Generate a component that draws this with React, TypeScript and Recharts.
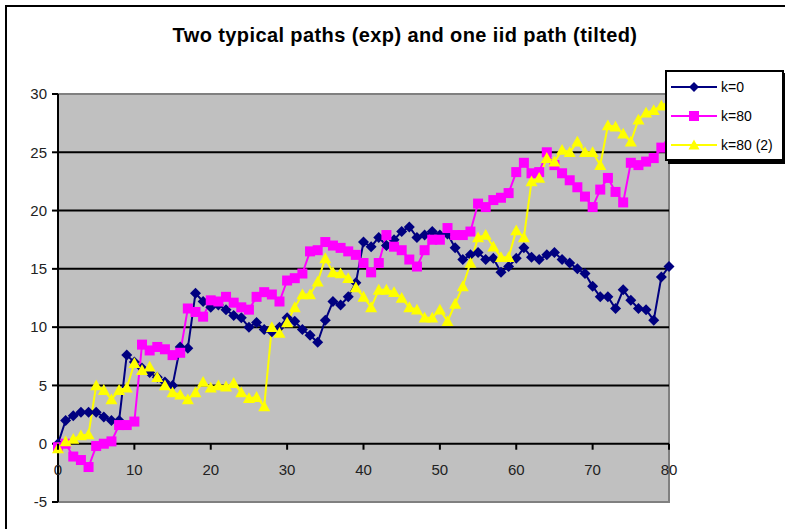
import React from 'react';
import { LineChart, Line, XAxis, YAxis, ReferenceArea, ReferenceLine } from 'recharts';

const W = 785;
const H = 529;
const PLOT_TOP = 94;
const PLOT_BOTTOM = 502;
const Y_MIN = -5;
const Y_MAX = 30;

const xTicks = [0, 10, 20, 30, 40, 50, 60, 70, 80];
const yTicks = [-5, 0, 5, 10, 15, 20, 25, 30];
const gridValues = [5, 10, 15, 20, 25];

const steps = Array.from({ length: 81 }, (_, i) => i);

// k=0
const pathK0 = [
  0, 2.0, 2.4, 2.7, 2.7, 2.7, 2.3, 2.0, 2.0, 7.6,
  7.0, 6.5, 6.1, 5.7, 5.3, 5.0, 8.3, 8.2, 12.9, 12.2,
  11.7, 11.9, 11.5, 11.0, 10.8, 10.0, 10.4, 9.8, 9.6, 10.0,
  10.8, 10.5, 9.8, 9.3, 8.7, 10.6, 12.2, 11.9, 12.6, 13.8,
  17.3, 16.9, 17.7, 17.0, 17.5, 18.2, 18.6, 17.7, 17.9, 18.2,
  17.9, 18.0, 16.8, 15.8, 16.2, 16.4, 15.8, 15.9, 14.7, 15.2,
  15.9, 16.8, 16.0, 15.8, 16.2, 16.4, 15.8, 15.5, 15.0, 14.6,
  13.5, 12.6, 12.6, 11.6, 13.2, 12.3, 11.6, 11.5, 10.6, 14.3,
  15.2,
];

// k=80
const pathK80 = [
  -0.3, 0, -1.1, -1.4, -2.0, -0.2, 0, 0.2, 1.6, 1.6,
  1.9, 8.5, 8.0, 8.3, 8.1, 7.6, 7.8, 11.6, 11.3, 10.9,
  12.3, 12.2, 12.6, 12.1, 11.7, 11.5, 12.6, 13.0, 12.8, 12.2,
  14.0, 14.2, 14.6, 16.5, 16.6, 17.3, 17.0, 16.8, 16.5, 16.2,
  15.5, 14.7, 15.5, 17.9, 16.9, 16.6, 15.8, 15.2, 16.6, 17.5,
  17.5, 18.5, 17.9, 17.9, 18.2, 20.6, 20.3, 20.9, 21.1, 21.5,
  23.3, 24.1, 23.2, 23.3, 25.0, 23.9, 23.2, 22.6, 22.0, 21.2,
  20.3, 21.8, 22.8, 21.6, 20.7, 24.1, 23.9, 24.2, 24.5, 25.4,
  25.5,
];

// k=80 (2)
const pathK80b = [
  -0.4, 0.2, 0.4, 0.7, 0.8, 5.0, 4.6, 3.8, 4.6, 4.8,
  6.9, 6.3, 6.6, 5.7, 5.0, 4.4, 4.2, 3.8, 4.4, 5.3,
  4.8, 5.0, 4.9, 5.2, 4.4, 3.9, 4.0, 3.2, 10.0, 9.5,
  10.4, 11.7, 12.8, 12.8, 13.9, 15.9, 14.7, 14.6, 14.2, 13.4,
  12.6, 11.7, 13.2, 13.2, 13.0, 12.5, 11.7, 11.5, 10.8, 10.8,
  11.5, 10.5, 12.0, 13.5, 15.5, 17.7, 17.9, 16.9, 16.0, 16.0,
  18.3, 17.7, 22.5, 22.8, 24.5, 24.2, 25.2, 25.0, 25.9, 25.0,
  25.0, 23.9, 27.3, 27.2, 26.6, 25.9, 27.8, 28.4, 28.6, 29.0,
  29.3,
];

const data = steps.map((s, i) => ({
  step: s,
  k0: pathK0[i],
  k80: pathK80[i],
  k80b: pathK80b[i],
}));

const NAVY = '#000080';
const MAGENTA = '#FF00FF';
const YELLOW = '#FFFF00';

const diamond = (cx: number, cy: number, r: number) =>
  `${cx},${cy - r} ${cx + r},${cy} ${cx},${cy + r} ${cx - r},${cy}`;
const triangle = (cx: number, cy: number, r: number) =>
  `${cx},${cy - r} ${cx + r},${cy + r * 0.8} ${cx - r},${cy + r * 0.8}`;

const DiamondDot = (p: any) =>
  p.cx == null ? null : <polygon key={`d${p.index}`} points={diamond(p.cx, p.cy, 5.5)} fill={NAVY} />;
const SquareDot = (p: any) =>
  p.cx == null ? null : <rect key={`s${p.index}`} x={p.cx - 5} y={p.cy - 5} width={10} height={10} fill={MAGENTA} />;
const TriangleDot = (p: any) =>
  p.cx == null ? null : <polygon key={`t${p.index}`} points={triangle(p.cx, p.cy, 6)} fill={YELLOW} />;

// x labels sit on the zero line, like Excel
const zeroY = PLOT_TOP + ((Y_MAX - 0) / (Y_MAX - Y_MIN)) * (PLOT_BOTTOM - PLOT_TOP);
const XTick = (props: any) => {
  const { x, payload } = props;
  return (
    <g>
      <line x1={x} x2={x} y1={zeroY} y2={zeroY + 6} stroke="#000" strokeWidth={2} />
      <text x={x} y={zeroY + 31} textAnchor="middle" fontSize={15} fill="#222" fontFamily="Arial">
        {payload.value}
      </text>
    </g>
  );
};

const legendItems = [
  { name: 'k=0', color: NAVY, shape: 'diamond' },
  { name: 'k=80', color: MAGENTA, shape: 'square' },
  { name: 'k=80 (2)', color: YELLOW, shape: 'triangle' },
];

const LegendBox = () => (
  <div
    style={{
      position: 'absolute',
      left: 665,
      top: 70,
      width: 115,
      height: 87,
      border: '2px solid #000',
      background: '#fff',
      boxShadow: '3px 3px 0 #000',
      fontFamily: 'Arial',
      fontSize: 14,
    }}
  >
    {legendItems.map((it, i) => (
      <div key={it.name} style={{ position: 'absolute', left: 3, top: 6 + i * 29, height: 18, display: 'flex', alignItems: 'center' }}>
        <svg width={48} height={18}>
          <line x1={1} x2={47} y1={9} y2={9} stroke={it.color} strokeWidth={2} />
          {it.shape === 'diamond' && <polygon points={diamond(24, 9, 5)} fill={it.color} />}
          {it.shape === 'square' && <rect x={19} y={4} width={10} height={10} fill={it.color} />}
          {it.shape === 'triangle' && <polygon points={triangle(24, 9, 5.5)} fill={it.color} />}
        </svg>
        <span style={{ marginLeft: 3, color: '#000' }}>{it.name}</span>
      </div>
    ))}
  </div>
);

export default function App() {
  return (
    <div style={{ position: 'absolute', left: 0, top: 0, width: W, height: H, overflow: 'hidden', background: '#fff' }}>
      <div style={{ position: 'absolute', left: 5, top: 5, width: 900, height: 700, border: '2px solid #000' }} />
      <div
        style={{
          position: 'absolute',
          left: 0,
          width: 810,
          top: 24,
          textAlign: 'center',
          fontFamily: 'Arial',
          fontWeight: 'bold',
          fontSize: 20,
          letterSpacing: 0.4,
          color: '#000',
        }}
      >
        Two typical paths (exp) and one iid path (tilted)
      </div>
      <div style={{ position: 'absolute', left: 0, top: 0 }}>
        <LineChart width={W} height={H} data={data} margin={{ top: PLOT_TOP, right: 116, bottom: H - PLOT_BOTTOM - 20, left: 7 }}>
          <ReferenceArea x1={0} x2={80} y1={Y_MIN} y2={Y_MAX} fill="#C0C0C0" fillOpacity={1} stroke="#808080" strokeWidth={2} />
          {gridValues.map((v) => (
            <ReferenceLine key={v} y={v} stroke="#000" strokeWidth={2} />
          ))}
          <ReferenceLine y={0} stroke="#000" strokeWidth={2} />
          <XAxis
            dataKey="step"
            type="number"
            domain={[0, 80]}
            ticks={xTicks}
            height={20}
            axisLine={false}
            tickLine={false}
            tick={<XTick />}
            interval={0}
          />
          <YAxis
            type="number"
            domain={[Y_MIN, Y_MAX]}
            ticks={yTicks}
            width={51}
            axisLine={{ stroke: '#000', strokeWidth: 2 }}
            tickLine={{ stroke: '#000', strokeWidth: 2 }}
            tickSize={6}
            tickMargin={5}
            tick={{ fontSize: 15, fill: '#222', fontFamily: 'Arial' }}
            interval={0}
          />
          <Line dataKey="k0" stroke={NAVY} strokeWidth={2} dot={DiamondDot} type="linear" isAnimationActive={false} />
          <Line dataKey="k80" stroke={MAGENTA} strokeWidth={2} dot={SquareDot} type="linear" isAnimationActive={false} />
          <Line dataKey="k80b" stroke={YELLOW} strokeWidth={2} dot={TriangleDot} type="linear" isAnimationActive={false} />
        </LineChart>
      </div>
      <LegendBox />
    </div>
  );
}
